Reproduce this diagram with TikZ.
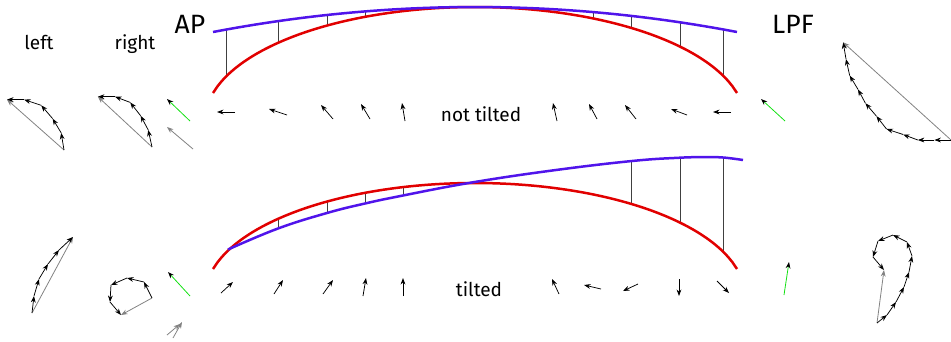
\documentclass[tikz,border=0pt]{standalone}
\usepackage{fontspec}
\setmainfont{Fira Sans}
\usetikzlibrary{arrows.meta}
\definecolor{arcred}{RGB}{225,0,0}
\definecolor{arcblue}{RGB}{80,20,235}
\definecolor{vgreen}{RGB}{20,225,20}
\definecolor{resgray}{RGB}{130,130,130}
\tikzset{
  vec/.style={-{Stealth[length=6.5pt,width=4.8pt]}, line width=0.75pt, black},
  resvec/.style={-{Stealth[length=6.5pt,width=4.8pt]}, line width=0.8pt, resgray},
  grvec/.style={-{Stealth[length=6.5pt,width=4.8pt,black]}, line width=0.8pt, vgreen},
  redarc/.style={line width=2.5pt, arcred},
  bluearc/.style={line width=2.5pt, arcblue},
  vline/.style={line width=0.6pt, black!75},
  lbl/.style={anchor=base, inner sep=0pt, font=\fontsize{19}{19}\selectfont},
  biglbl/.style={anchor=base, inner sep=0pt, font=\fontsize{26.5}{26.5}\selectfont}
}
\begin{document}
\begin{tikzpicture}[x=1pt,y=-1pt]
\useasboundingbox (0,0) rectangle (951,341);
% ---------- labels ----------
\node[lbl] (tleft) at (39,49) {left};
\node[lbl] (tright) at (135,49) {right};
\node[biglbl] (tap) at (190,33) {AP};
\node[biglbl] (tlpf) at (793,33) {LPF};
\node[lbl] (tnot) at (481,121) {not tilted};
\node[lbl] (ttil) at (479,296) {tilted};
% ---------- top arcs ----------
\foreach \x in {226,278,327,365,593,631,680,723}
  \draw[vline] (\x,{7+25*((\x-475)/262)^2}) -- (\x,{120.4-113.4*sqrt(1-((\x-475)/270)^2)});
\draw[redarc] plot[domain=213:737, samples=120] (\x,{120.4-113.4*sqrt(1-((\x-475)/270)^2)});
\draw[bluearc] plot[domain=213:737, samples=80] (\x,{7+25*((\x-475)/262)^2});
% ---------- bottom arcs ----------
\foreach \x/\yb in {278/228.5,327/213,365/203.5,403/195.5,631/161.1,680/157.7,723/157.5}
  \draw[vline] (\x,\yb) -- (\x,{296.4-113.4*sqrt(1-((\x-475)/270)^2)});
\draw[redarc] plot[domain=213:737, samples=120] (\x,{296.4-113.4*sqrt(1-((\x-475)/270)^2)});
\draw[bluearc] plot[smooth, tension=0.7] coordinates {(228,249.5) (278,228.5) (327,213) (365,203.5) (403,195.5) (470,182.8) (550,170.8) (631,161.1) (680,157.7) (705,157.2) (723,157.5) (743,160)};
% ---------- top row of arrows ----------
\foreach \a/\b/\c/\d in {235/112/217/112, 287/115/269/109, 333/119/321/105, 370/119/361/104, 405/121/402/103,
  557/121/553/103, 597/119/589/104, 636/119/625/105, 687/115/671/109, 731/112/713/112}
  \draw[vec] (\a,\b) -- (\c,\d);
% ---------- bottom row of arrows ----------
\foreach \a/\b/\c/\d in {221/293/233/282, 274/294/283/280, 323/294/333/280, 363/296/366/278, 403/296/403/278,
  559/294/552/279, 601/289/584/285, 638/284/623/291, 679/279/679/296, 717/281/729/293}
  \draw[vec] (\a,\b) -- (\c,\d);
% ---------- green / grey resultants ----------
\draw[grvec] (190,121) -- (167,99);
\draw[grvec] (785,121) -- (761,99);
\draw[grvec] (190,296) -- (168,272);
\draw[grvec] (784,295) -- (789,262);
\draw[resvec] (193,149) -- (167,127);
\draw[resvec] (167,335) -- (180,324);
\draw[resvec] (173,338) -- (182,322);
% ---------- top "left" chain ----------
\draw[resvec] (64,150) -- (7,99.6);
\foreach \a/\b/\c/\d in {64/150/61.2/132.9, 61.2/132.9/52.6/118.6, 52.6/118.6/41.2/105.3, 41.2/105.3/24.1/99.6, 24.1/99.6/7/99.6}
  \draw[vec] (\a,\b) -- (\c,\d);
% ---------- top "right" chain ----------
\draw[resvec] (152,147) -- (97.9,96.7);
\foreach \a/\b/\c/\d in {152/147/148.2/129.9, 148.2/129.9/140.6/115.7, 140.6/115.7/130.2/102.4, 130.2/102.4/115/96.7, 115/96.7/97.9/96.7}
  \draw[vec] (\a,\b) -- (\c,\d);
% ---------- top LPF chain ----------
\draw[resvec] (951,140) -- (843.2,42.4);
\foreach \a/\b/\c/\d in {951/140/934.4/140, 934.4/140/917.8/140, 917.8/140/903.1/134.5, 903.1/134.5/886.5/129,
  886.5/129/876.4/116.1, 876.4/116.1/865.4/103.2, 865.4/103.2/858/89.4, 858/89.4/849.7/75.6, 849.7/75.6/846/59, 846/59/843.2/42.4}
  \draw[vec] (\a,\b) -- (\c,\d);
% ---------- bottom "left" chain ----------
\draw[resvec] (32,313) -- (73,237);
\foreach \a/\b/\c/\d in {32/313/34/296, 34/296/39/279, 39/279/48/264, 48/264/59/250, 59/250/73/237}
  \draw[vec] (\a,\b) -- (\c,\d);
% ---------- bottom "right" chain ----------
\draw[resvec] (152,298) -- (121,315);
\foreach \a/\b/\c/\d in {152/298/144/282, 144/282/127/278, 127/278/111/285, 111/285/110/302, 110/302/121/315}
  \draw[vec] (\a,\b) -- (\c,\d);
% ---------- bottom LPF chain ----------
\draw[resvec] (877,323) -- (884,270);
\foreach \a/\b/\c/\d in {877/323/887/315, 887/315/896/302, 896/302/904/287, 904/287/909/272, 909/272/912/256,
  912/256/907/242, 907/242/893/235, 893/235/878/241, 878/241/873/257, 873/257/884/270}
  \draw[vec] (\a,\b) -- (\c,\d);
\end{tikzpicture}
\end{document}
